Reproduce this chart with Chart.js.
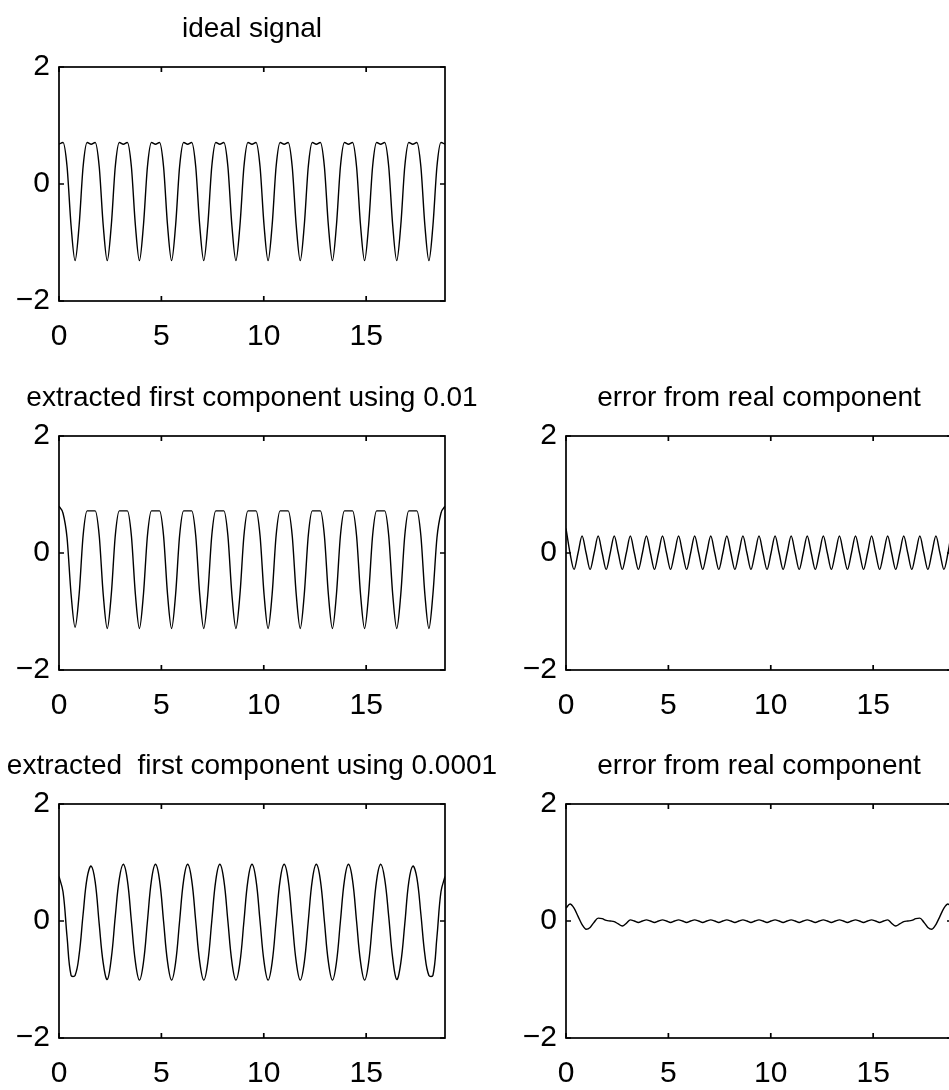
<!DOCTYPE html>
<html>
<head>
<meta charset="utf-8">
<title>first component extraction</title>
<script src="https://cdn.jsdelivr.net/npm/chart.js@4.4.1/dist/chart.umd.min.js"></script>
<style>
  html, body { margin: 0; padding: 0; background: #fff; overflow: hidden; }
  #page { position: relative; width: 949px; height: 1090px; overflow: hidden; background: #fff; }
  #page canvas { position: absolute; }
</style>
</head>
<body>
<div id="page"></div>
<script>
// sample times, step pi/16 from 0 to 6*pi
const t = [
  0.000, 0.196, 0.393, 0.589, 0.785, 0.982, 1.178, 1.374,
  1.571, 1.767, 1.963, 2.160, 2.356, 2.553, 2.749, 2.945,
  3.142, 3.338, 3.534, 3.731, 3.927, 4.123, 4.320, 4.516,
  4.712, 4.909, 5.105, 5.301, 5.498, 5.694, 5.890, 6.087,
  6.283, 6.480, 6.676, 6.872, 7.069, 7.265, 7.461, 7.658,
  7.854, 8.050, 8.247, 8.443, 8.639, 8.836, 9.032, 9.228,
  9.425, 9.621, 9.817, 10.014, 10.210, 10.407, 10.603, 10.799,
  10.996, 11.192, 11.388, 11.585, 11.781, 11.977, 12.174, 12.370,
  12.566, 12.763, 12.959, 13.155, 13.352, 13.548, 13.744, 13.941,
  14.137, 14.334, 14.530, 14.726, 14.923, 15.119, 15.315, 15.512,
  15.708, 15.904, 16.101, 16.297, 16.493, 16.690, 16.886, 17.082,
  17.279, 17.475, 17.671, 17.868, 18.064, 18.261, 18.457, 18.653,
  18.850
];

// ideal signal
const idealSignal = [
  0.68, 0.71, 0.30, -0.71, -1.31, -0.71, 0.30, 0.71,
  0.68, 0.71, 0.30, -0.71, -1.31, -0.71, 0.30, 0.71,
  0.68, 0.71, 0.30, -0.71, -1.31, -0.71, 0.30, 0.71,
  0.68, 0.71, 0.30, -0.71, -1.31, -0.71, 0.30, 0.71,
  0.68, 0.71, 0.30, -0.71, -1.31, -0.71, 0.30, 0.71,
  0.68, 0.71, 0.30, -0.71, -1.31, -0.71, 0.30, 0.71,
  0.68, 0.71, 0.30, -0.71, -1.31, -0.71, 0.30, 0.71,
  0.68, 0.71, 0.30, -0.71, -1.31, -0.71, 0.30, 0.71,
  0.68, 0.71, 0.30, -0.71, -1.31, -0.71, 0.30, 0.71,
  0.68, 0.71, 0.30, -0.71, -1.31, -0.71, 0.30, 0.71,
  0.68, 0.71, 0.30, -0.71, -1.31, -0.71, 0.30, 0.71,
  0.68, 0.71, 0.30, -0.71, -1.31, -0.71, 0.30, 0.71,
  0.68
];

// extracted first component, threshold 0.01
const extracted001 = [
  0.80, 0.68, 0.26, -0.70, -1.27, -0.71, 0.30, 0.72,
  0.72, 0.72, 0.30, -0.71, -1.29, -0.71, 0.30, 0.72,
  0.72, 0.72, 0.30, -0.71, -1.29, -0.71, 0.30, 0.72,
  0.72, 0.72, 0.30, -0.71, -1.29, -0.71, 0.30, 0.72,
  0.72, 0.72, 0.30, -0.71, -1.29, -0.71, 0.30, 0.72,
  0.72, 0.72, 0.30, -0.71, -1.29, -0.71, 0.30, 0.72,
  0.72, 0.72, 0.30, -0.71, -1.29, -0.71, 0.30, 0.72,
  0.72, 0.72, 0.30, -0.71, -1.29, -0.71, 0.30, 0.72,
  0.72, 0.72, 0.30, -0.71, -1.29, -0.71, 0.30, 0.72,
  0.72, 0.72, 0.30, -0.71, -1.29, -0.71, 0.30, 0.72,
  0.72, 0.72, 0.30, -0.71, -1.29, -0.71, 0.30, 0.72,
  0.72, 0.72, 0.30, -0.71, -1.29, -0.70, 0.26, 0.68,
  0.80
];

// error of the 0.01 extraction
const error001 = [
  0.42, 0.00, -0.28, 0.00, 0.29, 0.00, -0.28, 0.00,
  0.29, 0.00, -0.28, 0.00, 0.29, 0.00, -0.28, 0.00,
  0.29, 0.00, -0.28, 0.00, 0.29, 0.00, -0.28, 0.00,
  0.29, 0.00, -0.28, 0.00, 0.29, 0.00, -0.28, 0.00,
  0.29, 0.00, -0.28, 0.00, 0.29, 0.00, -0.28, 0.00,
  0.29, 0.00, -0.28, 0.00, 0.29, 0.00, -0.28, 0.00,
  0.29, 0.00, -0.28, 0.00, 0.29, 0.00, -0.28, 0.00,
  0.29, 0.00, -0.28, 0.00, 0.29, 0.00, -0.28, 0.00,
  0.29, 0.00, -0.28, 0.00, 0.29, 0.00, -0.28, 0.00,
  0.29, 0.00, -0.28, 0.00, 0.29, 0.00, -0.28, 0.00,
  0.29, 0.00, -0.28, 0.00, 0.29, 0.00, -0.28, 0.00,
  0.29, 0.00, -0.28, 0.00, 0.29, 0.00, -0.28, 0.00,
  0.42
];

// extracted first component, threshold 0.0001
const extracted00001 = [
  0.76, 0.50, -0.27, -0.93, -0.93, -0.58, 0.12, 0.74,
  0.94, 0.67, -0.05, -0.72, -1.00, -0.64, 0.08, 0.72,
  0.97, 0.70, 0.00, -0.70, -1.01, -0.71, 0.00, 0.70,
  0.97, 0.70, 0.00, -0.70, -1.01, -0.71, 0.00, 0.70,
  0.97, 0.70, 0.00, -0.70, -1.01, -0.71, 0.00, 0.70,
  0.97, 0.70, 0.00, -0.70, -1.01, -0.71, 0.00, 0.70,
  0.97, 0.70, 0.00, -0.70, -1.01, -0.71, 0.00, 0.70,
  0.97, 0.70, 0.00, -0.70, -1.01, -0.71, 0.00, 0.70,
  0.97, 0.70, 0.00, -0.70, -1.01, -0.71, 0.00, 0.70,
  0.97, 0.70, 0.00, -0.70, -1.01, -0.71, 0.00, 0.70,
  0.97, 0.72, 0.08, -0.64, -1.00, -0.72, -0.05, 0.67,
  0.94, 0.74, 0.12, -0.58, -0.93, -0.93, -0.27, 0.50,
  0.76
];

// error of the 0.0001 extraction
const error00001 = [
  0.22, 0.29, 0.22, 0.08, -0.06, -0.14, -0.11, -0.02,
  0.05, 0.04, 0.01, 0.00, -0.01, -0.05, -0.085, -0.04,
  0.02, 0.00, -0.025, 0.00, 0.02, 0.00, -0.025, 0.00,
  0.02, 0.00, -0.025, 0.00, 0.02, 0.00, -0.025, 0.00,
  0.02, 0.00, -0.025, 0.00, 0.02, 0.00, -0.025, 0.00,
  0.02, 0.00, -0.025, 0.00, 0.02, 0.00, -0.025, 0.00,
  0.02, 0.00, -0.025, 0.00, 0.02, 0.00, -0.025, 0.00,
  0.02, 0.00, -0.025, 0.00, 0.02, 0.00, -0.025, 0.00,
  0.02, 0.00, -0.025, 0.00, 0.02, 0.00, -0.025, 0.00,
  0.02, 0.00, -0.025, 0.00, 0.02, 0.00, -0.025, 0.00,
  0.02, -0.04, -0.085, -0.05, -0.01, 0.00, 0.01, 0.04,
  0.05, -0.02, -0.11, -0.14, -0.06, 0.08, 0.22, 0.29,
  0.22
];

const xTicks = [0, 5, 10, 15];
const yTicks = [-2, 0, 2];
const xMax = 18.85;

// layout in page pixels
const AXIS_W = 55, TITLE_H = 62, XAXIS_H = 60, BOX_W = 386, BOX_H = 234;
const FONT = "'Liberation Sans', Arial, Helvetica, sans-serif";

const panels = [
  { title: 'ideal signal', values: idealSignal, left: 59, top: 67, smooth: 'monotone' },
  { title: 'extracted first component using 0.01', values: extracted001, left: 59, top: 436, smooth: 'monotone' },
  { title: 'error from real component', values: error001, left: 566, top: 436, smooth: 'monotone' },
  { title: 'extracted  first component using 0.0001', values: extracted00001, left: 59, top: 804, smooth: 'default' },
  { title: 'error from real component', values: error00001, left: 566, top: 804, smooth: 'monotone' }
];

// box round the plot area with inward ticks, like the original figure
const framePlugin = {
  id: 'frame',
  afterDatasetsDraw(chart) {
    const { ctx, chartArea: a, scales } = chart;
    ctx.save();
    ctx.strokeStyle = '#000';
    ctx.lineWidth = 1.7;
    ctx.strokeRect(a.left, a.top, a.right - a.left, a.bottom - a.top);
    ctx.beginPath();
    scales.x.ticks.forEach(tk => {
      const px = scales.x.getPixelForValue(tk.value);
      ctx.moveTo(px, a.bottom); ctx.lineTo(px, a.bottom - 5);
      ctx.moveTo(px, a.top); ctx.lineTo(px, a.top + 5);
    });
    scales.y.ticks.forEach(tk => {
      const py = scales.y.getPixelForValue(tk.value);
      ctx.moveTo(a.left, py); ctx.lineTo(a.left + 5, py);
      ctx.moveTo(a.right, py); ctx.lineTo(a.right - 5, py);
    });
    ctx.stroke();
    ctx.restore();
  }
};

const page = document.getElementById('page');

panels.forEach(p => {
  const canvas = document.createElement('canvas');
  canvas.width = AXIS_W + BOX_W + AXIS_W;
  canvas.height = TITLE_H + BOX_H + XAXIS_H;
  canvas.style.left = (p.left - AXIS_W) + 'px';
  canvas.style.top = (p.top - TITLE_H) + 'px';
  page.appendChild(canvas);

  new Chart(canvas, {
    type: 'line',
    data: {
      datasets: [{
        data: p.values.map((v, i) => ({ x: t[i], y: v })),
        borderColor: '#000',
        borderWidth: 1.4,
        pointRadius: 0,
        fill: false,
        tension: 0.4,
        cubicInterpolationMode: p.smooth
      }]
    },
    options: {
      responsive: false,
      animation: false,
      layout: { padding: 0 },
      plugins: {
        legend: { display: false },
        tooltip: { enabled: false },
        title: {
          display: true,
          text: p.title,
          color: '#000',
          font: { family: FONT, size: 28, weight: 'normal', lineHeight: 1.2 },
          padding: { top: 7, bottom: TITLE_H - 7 - 28 * 1.2 }
        }
      },
      scales: {
        x: {
          type: 'linear',
          min: 0,
          max: xMax,
          afterBuildTicks: s => { s.ticks = xTicks.map(v => ({ value: v })); },
          afterFit: s => { s.height = XAXIS_H; },
          grid: { display: false, drawTicks: false },
          border: { display: false },
          ticks: { color: '#000', padding: 18, maxRotation: 0, font: { family: FONT, size: 30 } }
        },
        y: {
          type: 'linear',
          min: -2,
          max: 2,
          afterBuildTicks: s => { s.ticks = yTicks.map(v => ({ value: v })); },
          afterFit: s => { s.width = AXIS_W; },
          grid: { display: false, drawTicks: false },
          border: { display: false },
          ticks: {
            color: '#000',
            padding: 9,
            font: { family: FONT, size: 30 },
            callback: v => (v < 0 ? '\u2212' + Math.abs(v) : String(v))
          }
        },
        // empty right axis, same width as the left one, keeps the title centred over the box
        yRight: {
          type: 'linear',
          position: 'right',
          min: -2,
          max: 2,
          afterFit: s => { s.width = AXIS_W; },
          grid: { display: false, drawTicks: false },
          border: { display: false },
          ticks: { display: false }
        }
      }
    },
    plugins: [framePlugin]
  });
});
</script>
</body>
</html>
